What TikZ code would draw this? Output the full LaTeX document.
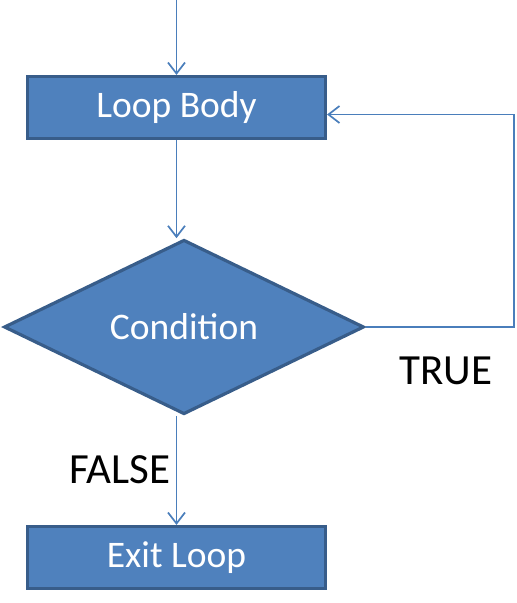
\documentclass[tikz,border=0pt]{standalone}
\usepackage{fontspec}
\setmainfont{Carlito}
\usetikzlibrary{shapes.geometric,arrows.meta}
\definecolor{boxfill}{HTML}{4F81BD}
\definecolor{boxline}{HTML}{385D8A}
\definecolor{conn}{HTML}{4A7EBB}
\tikzset{
  procbox/.style={draw=boxline, fill=boxfill, line width=3.2pt, minimum width=298pt, minimum height=62pt, inner sep=0pt, text=white, font=\fontsize{37.5}{40}\selectfont},
  decbox/.style={diamond, draw=boxline, fill=boxfill, line width=3.2pt, minimum width=360pt, minimum height=172pt, inner sep=0pt, text=white, font=\fontsize{37.5}{40}\selectfont},
  conn/.style={draw=conn, line width=1.7pt, -{Straight Barb[length=11pt,width=17pt,line width=1.7pt]}},
  lbl/.style={text=black, font=\fontsize{43}{46}\selectfont, inner sep=0pt}
}
\begin{document}
\begin{tikzpicture}[x=1pt,y=-1pt]
\useasboundingbox (0,0) rectangle (517,603);
\node[procbox] (lb) at (176.5,107.5) {Loop Body};
\node[decbox] (cond) at (184,327) {Condition};
\node[procbox] (ex) at (176.5,557.5) {Exit Loop};
\coordinate (start) at (176.5,0);
\coordinate (corner) at (514,327);
\coordinate (back) at ([yshift=-7pt]lb.east);
\node[lbl] (t) at (446,371) {TRUE};
\node[lbl] (f) at (120,470) {FALSE};
\draw[conn] (start) -- (lb.north);
\draw[conn] (lb.south) -- (lb.south |- cond.north);
\draw[conn] (ex.north |- cond.south) -- (ex.north);
\draw[conn] (cond.east) -- (corner) |- (back);
\end{tikzpicture}
\end{document}
